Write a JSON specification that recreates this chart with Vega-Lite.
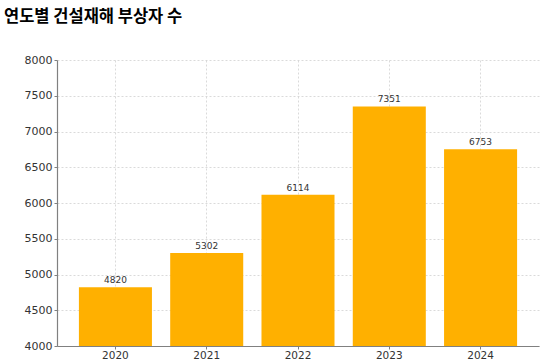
{
  "$schema": "https://vega.github.io/schema/vega-lite/v6.json",
  "width": 482,
  "height": 286,
  "autosize": "none",
  "padding": {"left": 57, "top": 60, "right": 12, "bottom": 15},
  "background": "white",
  "title": {
    "text": "연도별 건설재해 부상자 수",
    "anchor": "start",
    "frame": "group",
    "dx": -53,
    "offset": 29,
    "font": "Noto Sans CJK KR",
    "fontSize": 16.5,
    "fontWeight": "bold",
    "color": "#000000"
  },
  "data": {
    "values": [
      {"year": "2020", "injured": 4820},
      {"year": "2021", "injured": 5302},
      {"year": "2022", "injured": 6114},
      {"year": "2023", "injured": 7351},
      {"year": "2024", "injured": 6753}
    ]
  },
  "config": {
    "view": {"stroke": null},
    "axis": {
      "labelFont": "DejaVu Sans",
      "labelFontSize": 10.5,
      "labelColor": "#333333",
      "domainColor": "#808080",
      "domainWidth": 1.2,
      "tickColor": "#808080",
      "tickSize": 3,
      "gridColor": "#d0d0d0",
      "gridDash": [2, 2],
      "gridWidth": 0.8
    }
  },
  "encoding": {
    "x": {
      "field": "year",
      "type": "ordinal",
      "scale": {"paddingInner": 0.2, "paddingOuter": 0.24},
      "axis": {"title": null, "labelAngle": 0, "grid": true, "bandPosition": 0.5, "labelPadding": 1}
    },
    "y": {
      "field": "injured",
      "type": "quantitative",
      "scale": {"domain": [4000, 8000], "zero": false, "nice": false},
      "axis": {"title": null, "format": "d", "labelFontSize": 11, "values": [4000, 4500, 5000, 5500, 6000, 6500, 7000, 7500, 8000], "grid": true, "labelPadding": 2}
    }
  },
  "layer": [
    {"mark": {"type": "bar", "color": "#FFB000", "clip": true}},
    {
      "mark": {"type": "text", "dy": -7, "font": "DejaVu Sans", "fontSize": 9, "color": "#333333"},
      "encoding": {"text": {"field": "injured", "type": "quantitative", "format": "d"}}
    }
  ]
}
